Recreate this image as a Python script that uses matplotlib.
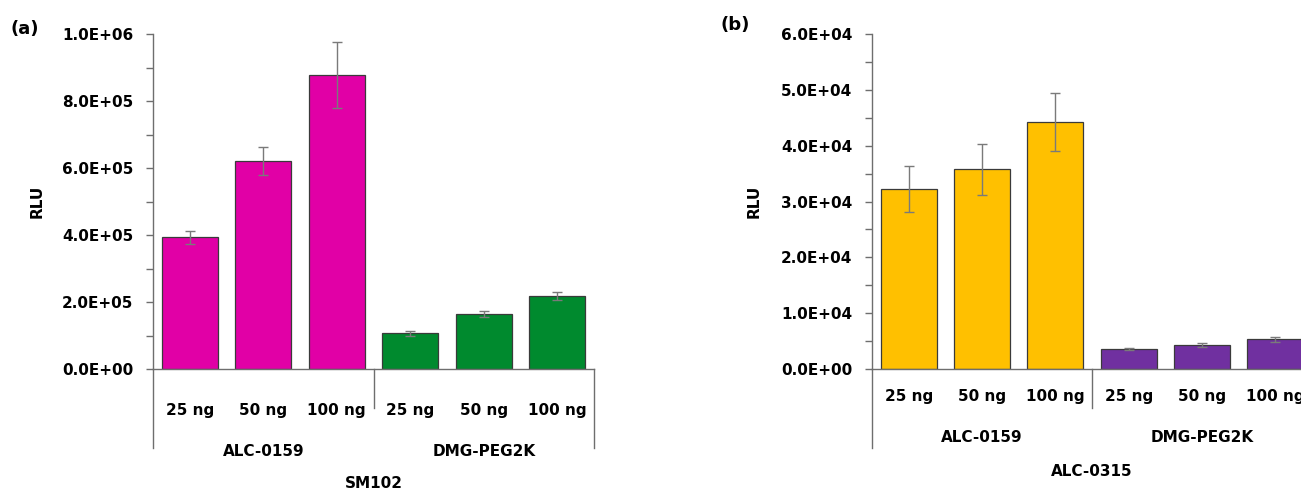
import matplotlib
matplotlib.use("Agg")
import matplotlib.pyplot as plt
from matplotlib.ticker import MultipleLocator, FuncFormatter
from matplotlib.transforms import blended_transform_factory

plt.rcParams['font.family'] = ['DejaVu Sans']
plt.rcParams['font.weight'] = 'bold'

doses = ["25 ng", "50 ng", "100 ng", "25 ng", "50 ng", "100 ng"]
groups = ["ALC-0159", "DMG-PEG2K"]

# Panel (a): SM102
a_values = [3.93e5, 6.21e5, 8.78e5, 1.06e5, 1.65e5, 2.18e5]
a_errors = [0.19e5, 0.41e5, 0.98e5, 0.08e5, 0.09e5, 0.12e5]
a_colors = ["#E100A6"] * 3 + ["#008A2E"] * 3

# Panel (b): ALC-0315
b_values = [3.22e4, 3.58e4, 4.43e4, 0.36e4, 0.43e4, 0.53e4]
b_errors = [0.41e4, 0.455e4, 0.52e4, 0.025e4, 0.035e4, 0.04e4]
b_colors = ["#FFC000"] * 3 + ["#7030A0"] * 3

W, H = 1301, 493
fig = plt.figure(figsize=(W / 100, H / 100), dpi=100)

AX_COL = "#6e6e6e"


def fy(px):
    return 1 - px / H


def make_panel(left_px, right_px, values, errors, colors, ymax, major, minor,
               panel_label, panel_xy, xlabel, ylabel_x, ytick_y, group_y, xlabel_y,
               sep_mid_y, sep_out_y):
    ax = fig.add_axes([left_px / W, fy(369), (right_px - left_px) / W, (369 - 34) / H])
    x = list(range(len(values)))
    ax.bar(x, values, width=0.76, color=colors, edgecolor="#3a3a3a", linewidth=0.9, zorder=2)
    ax.errorbar(x, values, yerr=errors, fmt="none", ecolor="#7a7a7a", elinewidth=1.0,
                capsize=3.5, capthick=1.0, zorder=3)
    ax.set_xlim(-0.5, len(values) - 0.5)
    ax.set_ylim(0, ymax)
    ax.yaxis.set_major_locator(MultipleLocator(major))
    ax.yaxis.set_minor_locator(MultipleLocator(minor))
    ax.yaxis.set_major_formatter(FuncFormatter(lambda v, p: f"{v:.1E}"))
    ax.tick_params(axis="y", which="both", direction="out", length=5, width=1,
                   color=AX_COL, pad=9, labelsize=11)
    for lab in ax.get_yticklabels():
        lab.set_fontweight("bold")
    ax.set_xticks([])
    for s in ["top", "right"]:
        ax.spines[s].set_visible(False)
    for s in ["left", "bottom"]:
        ax.spines[s].set_color(AX_COL)
        ax.spines[s].set_linewidth(1)
    ax.set_ylabel("RLU", fontsize=11, fontweight="bold")
    ax.yaxis.set_label_coords(ylabel_x, 0.5)

    tr = blended_transform_factory(ax.transData, fig.transFigure)
    for i, d in enumerate(doses):
        ax.text(i, fy(ytick_y), d, transform=tr, ha="center", va="center",
                fontsize=11, fontweight="bold", clip_on=False)
    for g, name in enumerate(groups):
        ax.text(g * 3 + 1, fy(group_y), name, transform=tr, ha="center", va="center",
                fontsize=11, fontweight="bold", clip_on=False)
    ax.text(2.5, fy(xlabel_y), xlabel, transform=tr, ha="center", va="center",
            fontsize=11, fontweight="bold", clip_on=False)
    # separators of the multi-level category axis
    ax.plot([-0.5, -0.5], [fy(369), fy(sep_out_y)], transform=tr, color=AX_COL, lw=1, clip_on=False)
    ax.plot([2.5, 2.5], [fy(369), fy(sep_mid_y)], transform=tr, color=AX_COL, lw=1, clip_on=False)
    ax.plot([5.5, 5.5], [fy(369), fy(sep_out_y)], transform=tr, color=AX_COL, lw=1, clip_on=False)
    fig.text(panel_xy[0] / W, fy(panel_xy[1]), panel_label, ha="left", va="center",
             fontsize=13, fontweight="bold")
    return ax


make_panel(153, 594, a_values, a_errors, a_colors, 1.0e6, 2e5, 1e5,
           "(a)", (11, 29), "SM102", (45 - 153) / 441, 410, 452, 484, 408, 448)
make_panel(872, 1312, b_values, b_errors, b_colors, 6.0e4, 1e4, 5e3,
           "(b)", (721, 25), "ALC-0315", (762 - 872) / 440, 397, 438, 472, 408, 448)

fig.savefig("out.png", dpi=100)
